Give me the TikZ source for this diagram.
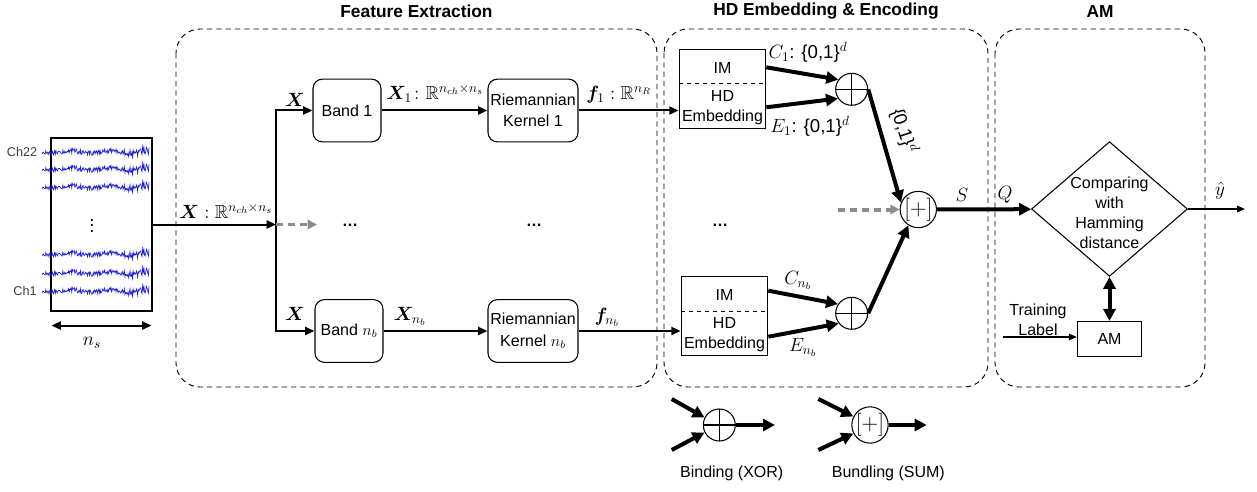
\documentclass[tikz,border=0pt]{standalone}
\usepackage{amsmath}
\usepackage{amsfonts}
\usepackage{amssymb}
\usepackage{bm}
\usepackage{xcolor}
\usepackage{fontspec}
\setmainfont{Liberation Sans}
\usetikzlibrary{arrows.meta,shapes.geometric,calc}

\definecolor{sigblue}{RGB}{30,30,210}
\definecolor{dashgray}{RGB}{140,140,140}
\definecolor{chgray}{RGB}{60,60,60}

\tikzset{
  lbl/.style={font=\fontsize{12}{15}\selectfont, inner sep=1pt},
  mlbl/.style={font=\fontsize{14}{16}\selectfont, inner sep=1pt},
  ttl/.style={font=\fontsize{13}{15}\selectfont\bfseries, inner sep=1pt},
  chlbl/.style={font=\fontsize{9.5}{11}\selectfont, text=chgray, inner sep=1pt},
  blkbox/.style={draw, line width=0.8pt, rounded corners=7pt, align=center,
    minimum height=47pt, inner sep=1pt, font=\fontsize{12}{16}\selectfont},
  hdbox/.style={draw, line width=0.8pt, minimum width=65pt, minimum height=59pt, inner sep=0pt},
  xorop/.style={draw, circle, line width=0.8pt, minimum size=24pt, inner sep=0pt,
    path picture={\draw[line width=0.8pt] (path picture bounding box.north) -- (path picture bounding box.south)
      (path picture bounding box.west) -- (path picture bounding box.east);}},
  bunop/.style={draw, circle, line width=0.8pt, minimum size=25pt, inner sep=0pt, font=\fontsize{18}{18}\selectfont},
  grpbox/.style={line width=0.7pt, rounded corners=18pt, dash pattern=on 4pt off 3pt},
  mainarr/.style={line width=1.5pt, -{Triangle[length=7pt,width=6pt]}},
  thkarr/.style={line width=3pt, -{Triangle[length=9pt,width=9pt]}},
  dblthk/.style={line width=3pt, {Triangle[length=9pt,width=9pt]}-{Triangle[length=9pt,width=9pt]}},
  thnarr/.style={line width=0.9pt, -{Triangle[length=6pt,width=5pt]}},
  grayarr/.style={draw=dashgray, line width=2pt, dash pattern=on 5pt off 4pt,
    -{Triangle[length=7pt,width=7pt,fill=dashgray]}},
}

\begin{document}
\begin{tikzpicture}[x=0.75pt,y=-0.75pt]
\useasboundingbox (0,0) rectangle (1257,492);

% group frames and titles
\draw[grpbox] (176,29) rectangle (657,387);
\draw[grpbox] (664,29) rectangle (988,387);
\draw[grpbox] (995,29) rectangle (1205,387);
\node[ttl] (tfe) at (416.5,11) {Feature Extraction};
\node[ttl] (thd) at (826,11) {HD Embedding \& Encoding};
\node[ttl] (tam) at (1100,12) {AM};

% EEG input
\node[draw, line width=0.8pt, minimum width=75.75pt, minimum height=129.75pt, inner sep=0pt] (sig) at (101.5,224.5) {};
\foreach \yy in {152,169,187,254,273,291}{
  \pgfmathsetseed{4242}
  \draw[sigblue, line width=0.5pt] plot[domain=42:149, samples=170]
    (\x, {\yy + 2.4*rand*(1+max(0,\x-118)/22) + 1.2*sin(9*\x)});
}
\node[chlbl] (ch22) at (22,152) {Ch22};
\node[chlbl] (ch1) at (25,291) {Ch1};
\node[mlbl] (vd) at (92,222) {$\vdots$};
\draw[line width=1.5pt, {Triangle[length=7pt,width=6pt]}-{Triangle[length=7pt,width=6pt]}]
  ($(sig.south west)+(1,14)$) -- ($(sig.south east)+(-1,14)$);
\node[mlbl] (nslbl) at (92,343) {$n_s$};

% feature extraction
\coordinate (jn) at (276,224.5);
\coordinate (gdots) at (317,224.5);
\node[blkbox, minimum width=51pt] (band1) at (347,110.5) {Band 1};
\node[blkbox, minimum width=51pt] (bandn) at (349,331) {Band $n_b$};
\node[blkbox, minimum width=67.5pt] (rk1) at (533,110.5) {Riemannian\\Kernel 1};
\node[blkbox, minimum width=67.5pt] (rkn) at (533,331) {Riemannian\\Kernel $n_b$};
\draw[mainarr] (sig.east) -- (jn);
\node[mlbl] (xin) at (226,211) {$\bm{X}:\mathbb{R}^{n_{ch}\times n_s}$};
\draw[mainarr] (jn) |- (band1);
\draw[mainarr] (jn) |- (bandn);
\draw[grayarr] (jn) -- (gdots);
\node[mlbl] (x1) at (295,100) {$\bm{X}$};
\node[mlbl] (xn) at (295,314) {$\bm{X}$};
\draw[mainarr] (band1) -- (rk1);
\draw[mainarr] (bandn) -- (rkn);
\node[mlbl] (x1lbl) at (435,94) {$\bm{X}_1\colon\mathbb{R}^{n_{ch}\times n_s}$};
\node[mlbl] (xnlbl) at (410,316) {$\bm{X}_{n_b}$};
\node[lbl] (dots1) at (350,225) {\textbf{\dots}};
\node[lbl] (dots2) at (534,225) {\textbf{\dots}};
\node[lbl] (dots3) at (720,225) {\textbf{\dots}};

% HD embedding and encoding
\node[hdbox] (hd1) at (722.5,88.7) {};
\node[hdbox] (hdn) at (724.5,316) {};
\draw[dashed, line width=0.6pt] ($(hd1.north west)+(0,35)$) -- ($(hd1.north east)+(0,35)$);
\draw[dashed, line width=0.6pt] ($(hdn.north west)+(0,35)$) -- ($(hdn.north east)+(0,35)$);
\node[lbl] (im1) at (722.5,68) {IM};
\node[lbl, align=center] (emb1) at (722.5,107.5) {HD\\Embedding};
\node[lbl] (imn) at (724.5,295) {IM};
\node[lbl, align=center] (embn) at (724.5,334.5) {HD\\Embedding};
\draw[mainarr] (rk1.east) -- (rk1.east -| hd1.west);
\draw[mainarr] (rkn.east) -- (rkn.east -| hdn.west);
\node[mlbl] (f1lbl) at (619,95) {$\bm{f}_1:\mathbb{R}^{n_R}$};
\node[mlbl] (fnlbl) at (607,317) {$\bm{f}_{n_b}$};

\node[xorop] (xor1) at (851.7,89.3) {};
\node[xorop] (xorn) at (851.7,313.3) {};
\node[bunop] (bun) at (918.3,209.5) {$[+]$};
\draw[thkarr] ($(hd1.east)+(0,-21.4)$) -- (xor1.144);
\draw[thkarr] ($(hd1.east)+(0,18.6)$) -- (xor1.214);
\draw[thkarr] ($(hdn.east)+(0,-25.3)$) -- (xorn.146);
\draw[thkarr] ($(hdn.east)+(0,20.7)$) -- (xorn.218);
\node[mlbl] (c1lbl) at (808,52) {$C_1$: \{0,1\}$^d$};
\node[mlbl] (e1lbl) at (810,126) {$E_1$: \{0,1\}$^d$};
\node[mlbl] (cnlbl) at (798,280) {$C_{n_b}$};
\node[mlbl] (enlbl) at (803,347) {$E_{n_b}$};
\draw[thkarr] (xor1.east) -- (bun.158);
\draw[thkarr] (xorn.east) -- (bun.238);
\node[mlbl, rotate=-72] (b1lbl) at (904,131) {\{0,1\}$^d$};
\coordinate (gbun) at (838,209.5);
\draw[grayarr, line width=3pt] (gbun) -- (bun);

% associative memory
\node[draw, diamond, line width=0.8pt, minimum width=117pt, minimum height=101pt, inner sep=0pt] (cmp) at (1109.5,209) {};
\node[lbl, align=center] (cmptxt) at (1109.5,213) {Comparing\\with\\Hamming\\distance};
\draw[thkarr] (bun) -- (cmp);
\node[mlbl] (slbl) at (962,195) {$S$};
\node[mlbl] (qlbl) at (1005,195) {$Q$};
\node[draw, line width=0.8pt, minimum width=48.3pt, minimum height=26.25pt, inner sep=0pt,
  font=\fontsize{12}{14}\selectfont] (am) at (1109.5,339) {AM};
\draw[dblthk] (cmp.south) -- (am.north);
\coordinate (yout) at (1245,209);
\draw[thnarr] (cmp) -- (yout);
\node[mlbl] (ylbl) at (1220,191) {$\hat{y}$};
\coordinate (trn) at (1003,337);
\draw[thnarr] (trn) -- (trn -| am.west);
\node[lbl, align=center] (trlbl) at (1038,320) {Training\\Label};

% legend
\node[xorop] (lx) at (719.3,425) {};
\node[bunop] (lb) at (870,425) {$[+]$};
\coordinate (lxa) at (671.7,399);
\coordinate (lxb) at (671.7,450);
\coordinate (lxo) at (775,425);
\coordinate (lba) at (818.3,399);
\coordinate (lbb) at (818.3,450);
\coordinate (lbo) at (926.7,425);
\draw[thkarr] (lxa) -- (lx.153);
\draw[thkarr] (lxb) -- (lx.207);
\draw[thkarr] (lx) -- (lxo);
\draw[thkarr] (lba) -- (lb.153);
\draw[thkarr] (lbb) -- (lb.207);
\draw[thkarr] (lb) -- (lbo);
\node[lbl] (lxt) at (731.7,473.3) {Binding (XOR)};
\node[lbl] (lbt) at (888.3,473.3) {Bundling (SUM)};
\end{tikzpicture}
\end{document}
